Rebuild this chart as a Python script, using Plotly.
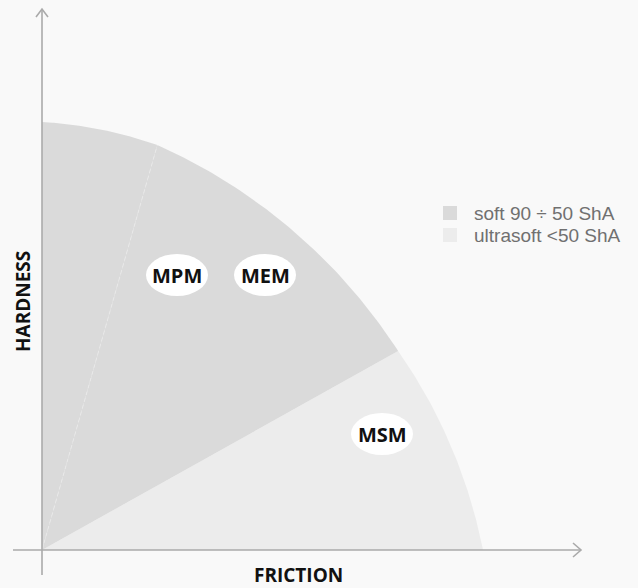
import numpy as np
import plotly.graph_objects as go

# ---------------- data ----------------
slice_labels = ["ultrasoft <50 ShA", "soft 90 ÷ 50 ShA", "soft 90 ÷ 50 ShA"]
slice_start_deg = [0.0, 29.2, 74.1]
slice_end_deg = [29.2, 74.1, 90.0]
slice_r_start = [441, 408, 421]
slice_r_end = [408, 421, 428]
slice_arc_radius = [524, 555, 410]
slice_colors = ["#ececec", "#dadada", "#dadada"]

label_names = ["MPM", "MEM", "MSM"]
label_x = [135, 223, 340]
label_y = [275, 275, 116]

legend_labels = ["soft 90 ÷ 50 ShA", "ultrasoft <50 ShA"]
legend_colors = ["#dadada", "#ececec"]

axis_x_title = "FRICTION"
axis_y_title = "HARDNESS"

W, H = 638, 588
OX, OY = 42, 550  # pixel position of the origin
BG = "#f9f9f9"
AXIS_COLOR = "#aaaaaa"


def arc_points(p1, p2, R, n=80):
    p1 = np.asarray(p1, float)
    p2 = np.asarray(p2, float)
    m = (p1 + p2) / 2
    c = p2 - p1
    L = np.hypot(*c)
    nrm = np.array([c[1], -c[0]]) / L
    if np.dot(nrm, m) < 0:
        nrm = -nrm
    d = np.sqrt(max(R ** 2 - (L / 2) ** 2, 0))
    ctr = m - nrm * d
    a1 = np.arctan2(p1[1] - ctr[1], p1[0] - ctr[0])
    a2 = np.arctan2(p2[1] - ctr[1], p2[0] - ctr[0])
    t = np.linspace(a1, a2, n)
    return ctr[0] + R * np.cos(t), ctr[1] + R * np.sin(t)


fig = go.Figure()

for i in range(len(slice_labels)):
    a0 = np.radians(slice_start_deg[i])
    a1 = np.radians(slice_end_deg[i])
    p1 = (slice_r_start[i] * np.cos(a0), slice_r_start[i] * np.sin(a0))
    p2 = (slice_r_end[i] * np.cos(a1), slice_r_end[i] * np.sin(a1))
    ax, ay = arc_points(p1, p2, slice_arc_radius[i])
    xs = np.concatenate([[0], ax, [0]])
    ys = np.concatenate([[0], ay, [0]])
    fig.add_trace(go.Scatter(
        x=xs, y=ys, mode="lines", fill="toself",
        fillcolor=slice_colors[i], line=dict(width=0, color=slice_colors[i]),
        name=slice_labels[i], showlegend=False, hoverinfo="name",
    ))

# faint seam between the two soft slices
a = np.radians(slice_start_deg[2])
r = slice_r_start[2]
fig.add_trace(go.Scatter(
    x=[0, r * np.cos(a)], y=[0, r * np.sin(a)], mode="lines",
    line=dict(color="#e9e9e9", width=1, dash="4px,3px"),
    showlegend=False, hoverinfo="skip",
))

shapes = []
# axes with open arrowheads
shapes.append(dict(type="line", x0=-29, y0=0, x1=539, y1=0,
                   line=dict(color=AXIS_COLOR, width=1.6), layer="above"))
shapes.append(dict(type="path", path="M 531 7 L 539 0 L 531 -7",
                   line=dict(color=AXIS_COLOR, width=1.6), layer="above"))
shapes.append(dict(type="line", x0=0, y0=-25, x1=0, y1=541,
                   line=dict(color=AXIS_COLOR, width=1.6), layer="above"))
shapes.append(dict(type="path", path="M -6 533 L 0 541 L 6 533",
                   line=dict(color=AXIS_COLOR, width=1.6), layer="above"))

annotations = []
for name, cx, cy in zip(label_names, label_x, label_y):
    shapes.append(dict(type="circle", x0=cx - 31, x1=cx + 31, y0=cy - 21, y1=cy + 21,
                       fillcolor="white", line=dict(width=0), layer="above"))
    annotations.append(dict(x=cx, y=cy, text=name, showarrow=False,
                            font=dict(family="Open Sans", size=20, color="#111111", weight="bold"),
                            xanchor="center", yanchor="middle"))

# legend
for k, (lab, col) in enumerate(zip(legend_labels, legend_colors)):
    yc = 337 - 22 * k
    shapes.append(dict(type="rect", x0=401, x1=415, y0=yc - 7, y1=yc + 7,
                       fillcolor=col, line=dict(width=0), layer="above"))
    annotations.append(dict(x=430, y=yc, text=lab, showarrow=False,
                            font=dict(family="Liberation Sans, Arial", size=19, color="#707070"),
                            xanchor="left", yanchor="middle"))

annotations.append(dict(x=256, y=-25, text=axis_x_title, showarrow=False,
                        font=dict(family="Open Sans", size=19, color="#111111", weight="bold"),
                        xanchor="center", yanchor="middle"))
annotations.append(dict(x=-19, y=248, text=axis_y_title, showarrow=False, textangle=-90,
                        font=dict(family="Open Sans", size=19, color="#111111", weight="bold"),
                        xanchor="center", yanchor="middle"))

fig.update_layout(
    width=W, height=H,
    margin=dict(l=0, r=0, t=0, b=0),
    paper_bgcolor=BG, plot_bgcolor=BG,
    xaxis=dict(range=[-OX, W - OX], visible=False, fixedrange=True),
    yaxis=dict(range=[OY - H, OY], visible=False, fixedrange=True),
    shapes=shapes, annotations=annotations,
    showlegend=False,
)

fig.write_html(
    "out.html",
    config={"displayModeBar": False},
    post_script=(
        "document.body.style.margin='0';"
        "document.body.style.background='" + BG + "';"
        "document.documentElement.style.overflow='hidden';"
    ),
)
